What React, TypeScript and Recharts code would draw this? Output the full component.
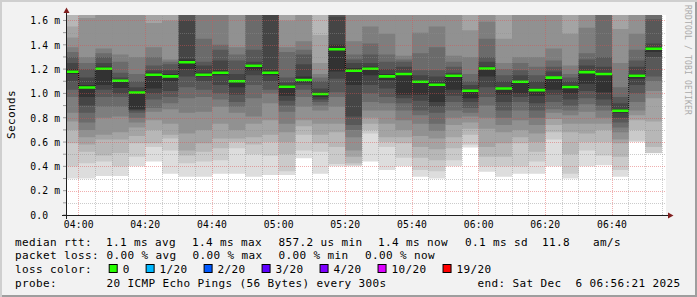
import React from "react";
import { ComposedChart, Area, Line, XAxis, YAxis, ReferenceLine, CartesianGrid } from "recharts";

// ---------- data ----------
const slotTimes = [
  "03:55", "04:00", "04:05", "04:10", "04:15", "04:20", "04:25", "04:30", "04:35", "04:40", "04:45", "04:50",
  "04:55", "05:00", "05:05", "05:10", "05:15", "05:20", "05:25", "05:30", "05:35", "05:40", "05:45", "05:50",
  "05:55", "06:00", "06:05", "06:10", "06:15", "06:20", "06:25", "06:30", "06:35", "06:40", "06:45", "06:50",
];
const lastSlotEnd = "06:55";

// median rtt per slot (ms)
const medianRtt = [
  1.178, 1.049, 1.203, 1.104, 1.008, 1.153, 1.14, 1.257, 1.153, 1.17, 1.1, 1.227,
  1.17, 1.055, 1.11, 0.995, 1.364, 1.186, 1.203, 1.14, 1.16, 1.096, 1.071, 1.145,
  1.022, 1.205, 1.04, 1.096, 1.027, 1.13, 1.052, 1.175, 1.16, 0.857, 1.145, 1.367,
];

// 20 sorted ping rtts per slot (ms)
const s0355 = [0.30, 0.40, 0.59, 0.70, 0.77, 0.84, 0.97, 1.03, 1.10, 1.16, 1.20, 1.25, 1.30, 1.34, 1.38, 1.46, 1.55, 1.70, 1.80, 1.95];
const s0400 = [0.30, 0.425, 0.52, 0.58, 0.64, 0.70, 0.76, 0.84, 0.90, 0.97, 1.07, 1.13, 1.20, 1.25, 1.30, 1.62, 1.75, 1.85, 1.95, 2.1];
const s0405 = [0.32, 0.44, 0.49, 0.62, 0.66, 0.80, 0.89, 0.97, 1.03, 1.07, 1.22, 1.25, 1.30, 1.33, 1.37, 1.70, 1.80, 1.90, 2.0, 2.2];
const s0410 = [0.32, 0.40, 0.51, 0.62, 0.68, 0.81, 0.89, 0.97, 1.00, 1.045, 1.11, 1.13, 1.17, 1.26, 1.32, 1.70, 1.80, 1.90, 2.0, 2.2];
const s0415 = [0.40, 0.48, 0.59, 0.65, 0.72, 0.76, 0.80, 0.84, 0.86, 0.87, 1.02, 1.05, 1.10, 1.16, 1.30, 1.70, 1.80, 1.90, 2.0, 2.2];
const s0420 = [0.44, 0.56, 0.59, 0.70, 0.78, 0.85, 0.88, 0.95, 1.00, 1.04, 1.17, 1.19, 1.23, 1.30, 1.38, 1.58, 1.70, 1.80, 1.90, 2.1];
const s0425 = [0.34, 0.53, 0.63, 0.66, 0.75, 0.87, 0.92, 0.97, 1.02, 1.10, 1.16, 1.19, 1.24, 1.26, 1.28, 1.60, 1.75, 1.85, 1.95, 2.1];
const s0430 = [0.315, 0.425, 0.49, 0.53, 0.67, 0.84, 0.96, 1.05, 1.14, 1.20, 1.28, 1.60, 1.70, 1.80, 1.90, 2.0, 2.1, 2.2, 2.3, 2.5];
const s0435 = [0.315, 0.44, 0.52, 0.59, 0.70, 0.85, 0.97, 1.03, 1.10, 1.14, 1.17, 1.23, 1.26, 1.45, 1.70, 1.80, 1.90, 2.0, 2.1, 2.3];
const s0440 = [0.34, 0.45, 0.55, 0.63, 0.75, 0.89, 0.95, 1.00, 1.07, 1.15, 1.19, 1.27, 1.36, 1.40, 1.70, 1.80, 1.90, 2.0, 2.1, 2.3];
const s0445 = [0.34, 0.55, 0.60, 0.63, 0.70, 0.84, 0.89, 0.93, 0.99, 1.05, 1.11, 1.16, 1.27, 1.32, 1.38, 1.70, 1.80, 1.90, 2.0, 2.2];
const s0450 = [0.315, 0.50, 0.58, 0.64, 0.75, 0.81, 0.96, 1.07, 1.15, 1.19, 1.24, 1.26, 1.36, 1.70, 1.80, 1.90, 2.0, 2.1, 2.2, 2.4];
const s0455 = [0.33, 0.49, 0.60, 0.66, 0.78, 0.92, 1.00, 1.03, 1.10, 1.15, 1.19, 1.70, 1.80, 1.90, 2.0, 2.1, 2.2, 2.3, 2.4, 2.6];
const s0500 = [0.33, 0.36, 0.50, 0.60, 0.68, 0.75, 0.85, 0.90, 0.94, 0.98, 1.07, 1.09, 1.13, 1.34, 1.38, 1.60, 1.70, 1.80, 1.90, 2.1];
const s0505 = [0.466, 0.53, 0.66, 0.73, 0.78, 0.89, 0.97, 1.03, 1.07, 1.09, 1.14, 1.24, 1.32, 1.36, 1.43, 1.70, 1.80, 1.90, 2.0, 2.2];
const s0510 = [0.34, 0.52, 0.59, 0.66, 0.75, 0.86, 0.90, 0.93, 0.95, 0.97, 1.01, 1.04, 1.10, 1.13, 1.16, 1.25, 1.48, 1.70, 1.85, 2.0];
const s0515 = [0.40, 0.42, 0.56, 0.68, 0.75, 0.89, 0.97, 1.01, 1.12, 1.18, 1.40, 1.63, 1.70, 1.80, 1.90, 2.0, 2.1, 2.2, 2.3, 2.5];
const s0520 = [0.40, 0.41, 0.425, 0.48, 0.53, 0.64, 0.70, 0.74, 0.81, 1.07, 1.21, 1.25, 1.28, 1.32, 1.43, 1.70, 1.80, 1.90, 2.0, 2.2];
const s0525 = [0.44, 0.67, 0.70, 0.75, 0.80, 0.86, 0.93, 1.00, 1.07, 1.15, 1.22, 1.25, 1.32, 1.41, 1.55, 1.70, 1.80, 1.90, 2.0, 2.2];
const s0530 = [0.37, 0.56, 0.60, 0.64, 0.75, 0.86, 0.92, 0.97, 1.04, 1.11, 1.16, 1.20, 1.26, 1.32, 1.49, 1.70, 1.80, 1.90, 2.0, 2.2];
const s0535 = [0.40, 0.47, 0.59, 0.64, 0.70, 0.78, 0.86, 0.92, 0.96, 0.99, 1.17, 1.22, 1.26, 1.28, 1.31, 1.70, 1.80, 1.90, 2.0, 2.2];
const s0540 = [0.315, 0.37, 0.47, 0.56, 0.65, 0.75, 0.82, 0.86, 0.94, 0.99, 1.11, 1.15, 1.19, 1.33, 1.50, 1.70, 1.80, 1.90, 2.0, 2.2];
const s0545 = [0.30, 0.36, 0.45, 0.54, 0.63, 0.69, 0.75, 0.84, 0.89, 0.93, 1.09, 1.14, 1.19, 1.38, 1.55, 1.70, 1.80, 1.90, 2.0, 2.2];
const s0550 = [0.40, 0.45, 0.55, 0.64, 0.74, 0.80, 0.86, 0.93, 0.98, 1.03, 1.16, 1.17, 1.22, 1.26, 1.31, 1.70, 1.80, 1.90, 2.0, 2.2];
const s0555 = [0.556, 0.58, 0.66, 0.71, 0.76, 0.81, 0.84, 0.88, 0.93, 0.96, 1.03, 1.07, 1.10, 1.16, 1.30, 1.52, 1.70, 1.80, 1.90, 2.1];
const s0600 = [0.356, 0.40, 0.48, 0.56, 0.71, 0.80, 0.90, 0.97, 1.05, 1.14, 1.22, 1.26, 1.30, 1.45, 1.59, 1.70, 1.80, 1.90, 2.0, 2.2];
const s0605 = [0.315, 0.40, 0.48, 0.59, 0.68, 0.74, 0.80, 0.86, 0.93, 0.99, 1.05, 1.10, 1.15, 1.20, 1.25, 1.45, 1.70, 1.80, 1.90, 2.1];
const s0610 = [0.34, 0.40, 0.59, 0.64, 0.70, 0.78, 0.86, 0.93, 0.97, 1.00, 1.11, 1.15, 1.19, 1.25, 1.30, 1.70, 1.80, 1.90, 2.0, 2.2];
const s0615 = [0.34, 0.44, 0.52, 0.60, 0.67, 0.74, 0.80, 0.86, 0.92, 0.98, 1.04, 1.10, 1.15, 1.22, 1.30, 1.70, 1.80, 1.90, 2.0, 2.2];
const s0620 = [0.40, 0.62, 0.68, 0.74, 0.79, 0.84, 0.87, 0.93, 0.99, 1.03, 1.14, 1.18, 1.22, 1.27, 1.37, 1.70, 1.80, 1.90, 2.0, 2.2];
const s0625 = [0.30, 0.34, 0.50, 0.68, 0.75, 0.82, 0.86, 0.90, 0.95, 1.00, 1.07, 1.10, 1.13, 1.16, 1.23, 1.49, 1.70, 1.80, 1.90, 2.1];
const s0630 = [0.40, 0.53, 0.60, 0.67, 0.75, 0.85, 0.91, 0.96, 1.02, 1.08, 1.19, 1.23, 1.28, 1.33, 1.54, 1.70, 1.80, 1.90, 2.0, 2.2];
const s0635 = [0.41, 0.49, 0.60, 0.70, 0.75, 0.80, 0.86, 0.90, 0.95, 1.01, 1.17, 1.22, 1.30, 1.70, 1.80, 1.90, 2.0, 2.1, 2.2, 2.4];
const s0640 = [0.315, 0.37, 0.48, 0.59, 0.62, 0.68, 0.72, 0.76, 0.80, 0.84, 0.87, 0.92, 0.97, 1.05, 1.25, 1.53, 1.70, 1.80, 1.90, 2.1];
const s0645 = [0.60, 0.61, 0.70, 0.78, 0.82, 0.86, 0.93, 1.00, 1.07, 1.12, 1.16, 1.22, 1.27, 1.36, 1.49, 1.70, 1.80, 1.90, 2.0, 2.2];
const s0650 = [0.507, 0.51, 0.56, 0.77, 0.96, 1.02, 1.10, 1.14, 1.30, 1.34, 1.38, 1.41, 1.61, 1.70, 1.80, 1.90, 2.0, 2.1, 2.2, 2.4];

const smokeColumns = [
  s0355, s0400, s0405, s0410, s0415, s0420, s0425, s0430, s0435, s0440, s0445, s0450,
  s0455, s0500, s0505, s0510, s0515, s0520, s0525, s0530, s0535, s0540, s0545, s0550,
  s0555, s0600, s0605, s0610, s0615, s0620, s0625, s0630, s0635, s0640, s0645, s0650,
];

// axis ticks
const xTickLabels = ["04:00", "04:20", "04:40", "05:00", "05:20", "05:40", "06:00", "06:20", "06:40"];
const yMajorValues = [0, 0.2, 0.4, 0.6, 0.8, 1.0, 1.2, 1.4, 1.6];
const yTickLabels = ["0.0", "0.2 m", "0.4 m", "0.6 m", "0.8 m", "1.0 m", "1.2 m", "1.4 m", "1.6 m"];
const yMinorValues = [0.1, 0.3, 0.5, 0.7, 0.9, 1.1, 1.3, 1.5];

// legend
const legendRtt = ["1.1 ms avg", "1.4 ms max", "857.2 us min", "1.4 ms now", "0.1 ms sd", "11.8", "am/s"];
const legendLoss = ["0.00 % avg", "0.00 % max", "0.00 % min", "0.00 % now"];
const lossLabels = ["0", "1/20", "2/20", "3/20", "4/20", "10/20", "19/20"];
const lossColors = ["#26ff00", "#00b8ff", "#0059ff", "#5e00ff", "#7e00ff", "#dd00ff", "#ff0000"];
const probeText = "20 ICMP Echo Pings (56 Bytes) every 300s";
const endText = "end: Sat Dec  6 06:56:21 2025";

// ---------- styling ----------
const FONT = "'DejaVu Sans Mono', monospace";
const Y_MAX = 1.645;
const X_DOMAIN: [number, number] = [-3.8, 176.2];
const MED_HALF = 0.0105;
const smokeShades = ["#dddddd", "#cacaca", "#b7b7b7", "#a4a4a4", "#919191", "#7e7e7e", "#6b6b6b", "#585858", "#454545", "#323232"];
const MINOR_GRID = "rgba(143,143,143,0.45)";
const MAJOR_GRID = "rgba(222,79,79,0.45)";

const toMinutes = (s: string) => {
  const [h, m] = s.split(":").map(Number);
  return h * 60 + m - 240;
};

const rows: any[] = slotTimes.map((time, i) => {
  const p = smokeColumns[i];
  const row: any = {
    t: toMinutes(time),
    med: medianRtt[i],
    medBand: [medianRtt[i] - MED_HALF, medianRtt[i] + MED_HALF],
  };
  for (let k = 0; k < 10; k++) row[`lvl${k}`] = [p[k], p[19 - k]];
  return row;
});
rows.push({ ...rows[rows.length - 1], t: toMinutes(lastSlotEnd) });

const xTickMinutes = xTickLabels.map(toMinutes);
const xMinorMinutes = [...slotTimes.map(toMinutes), toMinutes(lastSlotEnd)].filter(
  (m) => m > X_DOMAIN[0] && m < X_DOMAIN[1] && !xTickMinutes.includes(m)
);
const yAllTicks = [...yMajorValues, ...yMinorValues].sort((a, b) => a - b);

// pixel-snapped dotted horizontal grid line (rrdtool style)
const HGridShape = (props: any) => {
  const x1 = Number(props.x1), y1 = Number(props.y1), x2 = Number(props.x2), y2 = Number(props.y2);
  const base = { stroke: props.stroke, strokeWidth: 1, strokeDasharray: "1 1", shapeRendering: "crispEdges" as const };
  if (![x1, y1, x2, y2].every((n) => Number.isFinite(n))) return <g />;
  const y = Math.round((y1 + y2) / 2) + 0.5;
  return <line x1={Math.min(x1, x2)} x2={Math.max(x1, x2)} y1={y} y2={y} {...base} />;
};

const XTick = (props: any) => {
  const { x, y, payload } = props;
  const i = xTickMinutes.indexOf(payload.value);
  if (i < 0) return <g />;
  return (
    <text x={x} y={y + 7} textAnchor="middle" fontFamily={FONT} fontSize={9.7} fill="#000" style={{ letterSpacing: "0.16px" }}>
      {xTickLabels[i]}
    </text>
  );
};

const YTick = (props: any) => {
  const { x, y, payload } = props;
  const i = yMajorValues.findIndex((v) => Math.abs(v - payload.value) < 1e-9);
  if (i < 0) return <g />;
  return (
    <text x={x + 0.2} y={y + 3.8} textAnchor="end" fontFamily={FONT} fontSize={9.7} fill="#000" style={{ letterSpacing: "0.16px", whiteSpace: "pre" }}>
      {yTickLabels[i].padEnd(5, "\u00a0")}
    </text>
  );
};

const NoTick = () => <g />;

const txt = (x: number, y: number, s: string, key?: string) => (
  <text key={key} x={x} y={y} fontFamily={FONT} fontSize={11} fill="#000" style={{ letterSpacing: "0.38px", whiteSpace: "pre" }}>
    {s}
  </text>
);

export default function App() {
  const rttX = [106, 192, 278.4, 378, 465, 542, 593];
  const lossX = [106.5, 192.5, 278.5, 365];
  const L = [245.6, 259.2, 272.8, 286.5];

  // loss color swatches laid out sequentially
  const swatches: { sx: number; label: string; color: string }[] = [];
  let sx = 108.7;
  lossLabels.forEach((label, i) => {
    swatches.push({ sx, label, color: lossColors[i] });
    sx = sx + 14 + label.length * 7.02 + 15.9;
  });

  return (
    <div
      style={{
        position: "absolute",
        left: 0,
        top: 0,
        width: 697,
        height: 297,
        background: "#f2f2f2",
        boxShadow: "inset 2px 2px 0 #cfcfcf, inset -2px -2px 0 #9e9e9e",
        overflow: "hidden",
      }}
    >
      <div style={{ position: "absolute", left: 0, top: 0 }}>
        <ComposedChart width={697} height={297} data={rows} margin={{ top: 15, right: 31, bottom: 0, left: 0 }}>
          <CartesianGrid fill="#ffffff" horizontal={false} vertical={false} stroke="none" />
          <XAxis
            type="number"
            dataKey="t"
            domain={X_DOMAIN}
            allowDataOverflow
            ticks={xTickMinutes}
            interval={0}
            height={82}
            tickSize={0}
            tickMargin={6}
            axisLine={false}
            tickLine={false}
            tick={<XTick />}
          />
          <YAxis
            type="number"
            domain={[0, Y_MAX]}
            allowDataOverflow
            ticks={yAllTicks}
            interval={0}
            width={66}
            tickSize={3}
            tickMargin={3}
            axisLine={false}
            tickLine={{ stroke: "#9a9a9a" }}
            tick={<YTick />}
          />
          <YAxis
            yAxisId="right"
            orientation="right"
            type="number"
            domain={[0, Y_MAX]}
            allowDataOverflow
            ticks={yAllTicks}
            interval={0}
            width={0}
            tickSize={3}
            tickMargin={0}
            axisLine={false}
            tickLine={{ stroke: "#9a9a9a" }}
            tick={<NoTick />}
          />
          {smokeShades.map((c, k) => (
            <Area
              key={`lvl${k}`}
              dataKey={`lvl${k}`}
              type="stepAfter"
              fill={c}
              fillOpacity={1}
              stroke="none"
              dot={false}
              activeDot={false}
              isAnimationActive={false}
              zIndex={100 + k}
            />
          ))}
          <Line
            dataKey="med"
            type="stepAfter"
            stroke="#000000"
            strokeWidth={1}
            strokeDasharray="1 1"
            dot={false}
            activeDot={false}
            isAnimationActive={false}
            zIndex={150}
          />
          <Area
            dataKey="medBand"
            type="stepAfter"
            fill="#26ff00"
            fillOpacity={1}
            stroke="none"
            dot={false}
            activeDot={false}
            isAnimationActive={false}
            zIndex={160}
          />
          {yMinorValues.map((v) => (
            <ReferenceLine key={`ym${v}`} y={v} stroke={MINOR_GRID} shape={HGridShape} zIndex={300} />
          ))}
          {xMinorMinutes.map((v) => (
            <ReferenceLine key={`xm${v}`} x={v} stroke={MINOR_GRID} strokeDasharray="1 1" shapeRendering="crispEdges" zIndex={300} />
          ))}
          {yMajorValues.filter((v) => v > 0).map((v) => (
            <ReferenceLine key={`yM${v}`} y={v} stroke={MAJOR_GRID} shape={HGridShape} zIndex={310} />
          ))}
          {xTickMinutes.map((v) => (
            <ReferenceLine key={`xM${v}`} x={v} stroke={MAJOR_GRID} strokeDasharray="1 1" shapeRendering="crispEdges" zIndex={310} />
          ))}
        </ComposedChart>
      </div>

      <svg width={697} height={297} style={{ position: "absolute", left: 0, top: 0, pointerEvents: "none" }}>
        {/* axes with arrows */}
        <line x1={66.5} y1={12} x2={66.5} y2={219} stroke="#1f1f1f" strokeWidth={1} />
        <polygon points="63.5,13 69.5,13 66.5,7.5" fill="#801f1f" />
        <line x1={62} y1={215.5} x2={668} y2={215.5} stroke="#1f1f1f" strokeWidth={1} />
        <polygon points="668,212.5 668,218.5 673.5,215.5" fill="#801f1f" />

        {/* vertical unit label */}
        <text
          x={15}
          y={114.5}
          transform="rotate(-90 15 114.5)"
          textAnchor="middle"
          fontFamily={FONT}
          fontSize={11}
          fill="#000"
          style={{ letterSpacing: "0.38px" }}
        >
          Seconds
        </text>

        {/* watermark */}
        <text
          x={685}
          y={60}
          transform="rotate(90 685 60)"
          textAnchor="middle"
          fontFamily={FONT}
          fontSize={8}
          fill="#aaaaaa"
          style={{ letterSpacing: "0.18px" }}
        >
          RRDTOOL / TOBI OETIKER
        </text>

        {/* legend */}
        {txt(15, L[0], "median rtt:")}
        {legendRtt.map((s, i) => txt(rttX[i], L[0], s, `r${i}`))}
        {txt(15, L[1], "packet loss:")}
        {legendLoss.map((s, i) => txt(lossX[i], L[1], s, `l${i}`))}
        {txt(15, L[2], "loss color:")}
        {swatches.map((s, i) => (
          <g key={`sw${i}`}>
            <rect x={s.sx + 0.5} y={264.5} width={8} height={8} fill={s.color} stroke="#000" strokeWidth={1} />
            {txt(s.sx + 14, L[2], s.label)}
          </g>
        ))}
        {txt(15, L[3], "probe:")}
        {txt(106.5, L[3], probeText)}
        {txt(477.5, L[3], endText)}
      </svg>
    </div>
  );
}
